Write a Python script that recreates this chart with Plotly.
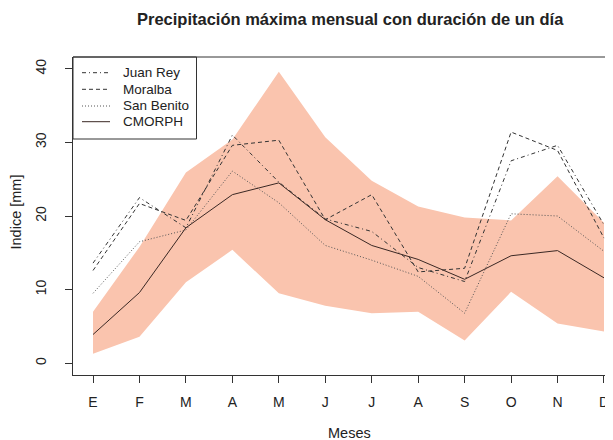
import plotly.graph_objects as go

months = ["E", "F", "M", "A", "M", "J", "J", "A", "S", "O", "N", "D"]
month_idx = list(range(1, 13))
y_ticks = [0, 10, 20, 30, 40]

band_upper = [7.0, 15.8, 25.9, 30.4, 39.6, 30.7, 24.8, 21.3, 19.8, 19.4, 25.4, 19.1]
band_lower = [1.3, 3.6, 11.0, 15.4, 9.5, 7.8, 6.8, 7.0, 3.1, 9.7, 5.4, 4.3]
juan_rey = [13.6, 22.5, 18.4, 31.0, 24.6, 19.6, 17.9, 13.0, 11.1, 27.5, 29.6, 18.8]
moralba = [12.6, 21.7, 19.4, 29.6, 30.3, 19.5, 22.9, 12.4, 12.9, 31.4, 28.9, 17.0]
san_benito = [9.5, 16.5, 18.1, 26.1, 21.8, 16.0, 14.0, 11.8, 6.8, 20.3, 20.0, 15.2]
cmorph = [3.9, 9.6, 18.4, 22.9, 24.5, 19.5, 16.0, 14.1, 11.4, 14.6, 15.3, 11.6]

# page body has an 8px margin: shift the figure content by 8px
OFF = 8
W, H = 613 - OFF, 440 - OFF
L, T = 73 - OFF, 57 - OFF
PW, PH = W - L, 318
B = H - T - PH

def px(p):  # screen x -> paper
    return (p - OFF - L) / PW

def py(p):  # screen y -> paper
    return (T + PH - (p - OFF)) / PH

FONT = "Liberation Sans, Arial, Helvetica, sans-serif"
TXT = "#222222"
LINE = "#333333"
FILL = "rgba(250,196,174,1)"

fig = go.Figure()
fig.add_trace(go.Scatter(
    x=month_idx + month_idx[::-1],
    y=band_upper + band_lower[::-1],
    fill="toself", fillcolor=FILL, line=dict(width=0, color=FILL),
    mode="lines", hoverinfo="skip", showlegend=False))

series = [
    ("Juan Rey", juan_rey, "4px,3px,1px,3px", LINE),
    ("Moralba", moralba, "4px,3px", LINE),
    ("San Benito", san_benito, "1px,2px", "#555555"),
    ("CMORPH", cmorph, "solid", "#3a2824"),
]
for name, vals, dash, col in series:
    fig.add_trace(go.Scatter(x=month_idx, y=vals, mode="lines", name=name,
                             line=dict(color=col, width=1, dash=dash),
                             showlegend=False))

shapes = []
annotations = []
shapes.append(dict(type="rect", xref="paper", yref="paper",
                   x0=px(73), x1=px(196.5), y0=py(139), y1=py(57),
                   line=dict(color=LINE, width=1), fillcolor="white", layer="above"))
leg_y = [72.7, 89.3, 106, 121.7]
for (name, vals, dash, col), yy in zip(series, leg_y):
    shapes.append(dict(type="line", xref="paper", yref="paper",
                       x0=px(82), x1=px(110), y0=py(yy), y1=py(yy),
                       line=dict(color=col, width=1, dash=dash), layer="above"))
    annotations.append(dict(text=name, xref="paper", yref="paper",
                            x=px(121), y=py(yy), xanchor="left", yanchor="middle",
                            showarrow=False, font=dict(family=FONT, size=13.5, color=TXT)))

shapes.append(dict(type="line", xref="paper", yref="paper", x0=0, x1=1, y0=1, y1=1,
                   line=dict(color=LINE, width=1)))

annotations.append(dict(text="<b>Precipitación máxima mensual con duración de un día</b>",
                        xref="paper", yref="paper", x=px(350), y=py(19),
                        xanchor="center", yanchor="middle", showarrow=False,
                        font=dict(family=FONT, size=16.5, color=TXT)))
annotations.append(dict(text="Meses", xref="paper", yref="paper", x=px(349), y=py(433),
                        xanchor="center", yanchor="middle", showarrow=False,
                        font=dict(family=FONT, size=14.5, color=TXT)))
annotations.append(dict(text="Indice [mm]", xref="paper", yref="paper", x=px(16), y=py(212.5),
                        xanchor="center", yanchor="middle", showarrow=False, textangle=-90,
                        font=dict(family=FONT, size=14.5, color=TXT)))

fig.update_layout(
    width=W, height=H, margin=dict(l=L, r=0, t=T, b=B, autoexpand=False),
    paper_bgcolor="white", plot_bgcolor="white",
    shapes=shapes, annotations=annotations, showlegend=False,
    xaxis=dict(range=[0.569, 12.194],
               tickmode="array", tickvals=month_idx, ticktext=months,
               automargin=False, ticklabeloverflow="allow",
               showgrid=False, zeroline=False, showline=True, linecolor=LINE, linewidth=1,
               ticks="outside", ticklen=7, tickcolor=LINE, tickwidth=1,
               tickfont=dict(family=FONT, size=14, color=TXT), ticklabelstandoff=7),
    yaxis=dict(range=[-1.6, 41.6], tickmode="array", tickvals=y_ticks,
               ticktext=[str(v) for v in y_ticks], automargin=False,
               showgrid=False, zeroline=False, showline=True, linecolor=LINE, linewidth=1,
               ticks="outside", ticklen=7, tickcolor=LINE, tickwidth=1, tickangle=-90,
               tickfont=dict(family=FONT, size=14, color=TXT), ticklabelstandoff=13),
)

fig.write_html("out.html")
